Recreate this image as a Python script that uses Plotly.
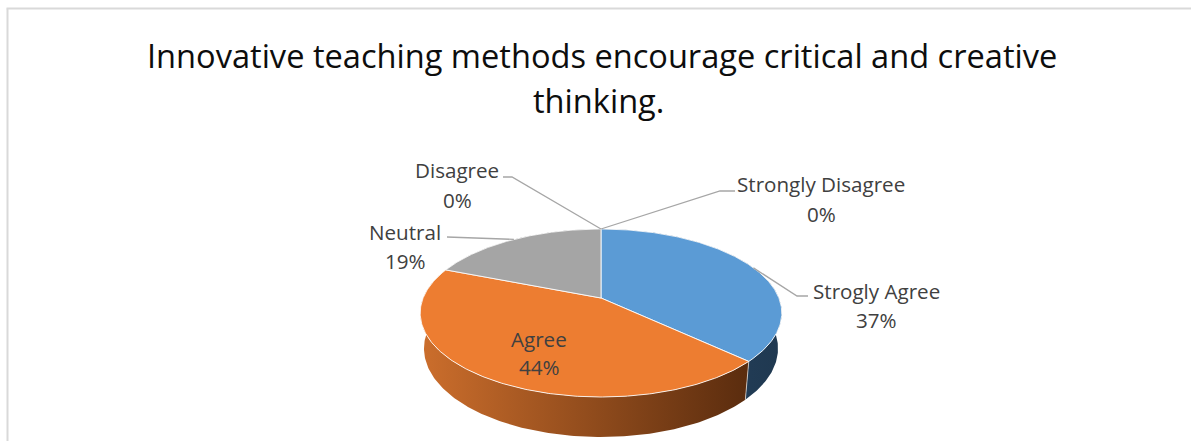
import math
import numpy as np
import plotly.graph_objects as go

# ---------------- data ----------------
categories = ["Strogly Agree", "Agree", "Neutral", "Disagree", "Strongly Disagree"]
percent_values = [37, 44, 19, 0, 0]
percent_labels = ["37%", "44%", "19%", "0%", "0%"]
title_lines = ["Innovative teaching methods encourage critical and creative", "thinking."]

# ---------------- style ----------------
top_colors = {"Strogly Agree": "#5B9BD5", "Agree": "#ED7D31", "Neutral": "#A5A5A5",
              "Disagree": "#FFC000", "Strongly Disagree": "#4472C4"}
side_gradients = {"Strogly Agree": ["#2A4A68", "#1F3850"],
                  "Agree": ["#CC6E2C", "#5A2C0E"],
                  "Neutral": ["#7A7A7A", "#505050"],
                  "Disagree": ["#A07800", "#705400"],
                  "Strongly Disagree": ["#2A4A80", "#1E3560"]}
W, H_PX = 1191, 441
# 3D pie projection parameters (in pixels of the figure)
CX, CY = 601.0, 298.0
FOCAL = 886.0
DIST = 4.98
ALPHA = math.radians(27.2)
THICK = 0.226
LABEL_COLOR = "#404040"
LEADER_COLOR = "#A6A6A6"
FONT = "Open Sans"
LABEL_SIZE = 20.6
TITLE_SIZE = 32.6

# label layout: text block centre and leader elbow/end (positions)
label_layout = {
    "Strogly Agree": dict(cx=876, y1=291, y2=320, elbow=(797, 296), end=(808, 296), inside=False),
    "Agree": dict(cx=539, y1=339, y2=367, inside=True),
    "Neutral": dict(cx=405, y1=232, y2=261, elbow=(447, 237), end=(447, 237), inside=False),
    "Disagree": dict(cx=457, y1=170, y2=200, elbow=(512, 177), end=(503, 177), inside=False),
    "Strongly Disagree": dict(cx=821, y1=184, y2=214, elbow=(720, 191), end=(735, 191), inside=False),
}


def project(X, Y, Z):
    ca, sa = math.cos(ALPHA), math.sin(ALPHA)
    v = Y * ca + Z * sa
    w = -Y * sa + Z * ca
    s = FOCAL / (DIST + w)
    return CX + X * s, CY - v * s


def rim(theta, r=1.0, y=0.0):
    return project(r * math.sin(theta), y, r * math.cos(theta))


total = float(sum(percent_values))
fractions = [v / total for v in percent_values]
starts = np.concatenate([[0.0], np.cumsum(fractions)[:-1]])
ends = np.cumsum(fractions)

fig = go.Figure()

# ----- side walls (drawn far-to-near, before tops) -----
wall_order = sorted(range(len(categories)),
                    key=lambda i: -math.cos(2 * math.pi * (starts[i] + ends[i]) / 2))
for i in wall_order:
    if fractions[i] <= 0:
        continue
    th = np.linspace(2 * math.pi * starts[i], 2 * math.pi * ends[i], 200)
    top = [rim(t) for t in th]
    bot = [rim(t, y=-THICK) for t in th[::-1]]
    pts = top + bot + [top[0]]
    g = side_gradients[categories[i]]
    fig.add_trace(go.Scatter(
        x=[p[0] for p in pts], y=[p[1] for p in pts], mode="lines", fill="toself",
        line=dict(width=0), fillcolor=g[0],
        fillgradient=dict(type="horizontal", colorscale=[[0, g[0]], [1, g[1]]]),
        hoverinfo="skip", showlegend=False))

# separators on visible wall between slices
for i in range(len(categories)):
    if fractions[i] <= 0:
        continue
    t = 2 * math.pi * ends[i]
    if math.cos(t) < 0:
        a = rim(t)
        b = rim(t, y=-THICK)
        fig.add_trace(go.Scatter(x=[a[0], b[0]], y=[a[1], b[1]], mode="lines",
                                 line=dict(color="rgba(255,255,255,0.6)", width=1),
                                 hoverinfo="skip", showlegend=False))

# ----- top faces -----
for i in range(len(categories)):
    if fractions[i] <= 0:
        continue
    th = np.linspace(2 * math.pi * starts[i], 2 * math.pi * ends[i], 240)
    pts = [project(0, 0, 0)] + [rim(t) for t in th] + [project(0, 0, 0)]
    fig.add_trace(go.Scatter(
        x=[p[0] for p in pts], y=[p[1] for p in pts], mode="lines", fill="toself",
        fillcolor=top_colors[categories[i]],
        line=dict(color="rgba(255,255,255,0.85)", width=1),
        name=categories[i], hoverinfo="name", showlegend=False))

# ----- labels and leader lines -----
annotations = []
for i, cat in enumerate(categories):
    L = label_layout[cat]
    annotations.append(dict(x=L["cx"], y=L["y1"], xref="x", yref="y", text=cat, showarrow=False,
                            font=dict(family=FONT, size=LABEL_SIZE, color=LABEL_COLOR),
                            xanchor="center", yanchor="middle"))
    annotations.append(dict(x=L["cx"], y=L["y2"], xref="x", yref="y", text=percent_labels[i],
                            showarrow=False, font=dict(family=FONT, size=LABEL_SIZE, color=LABEL_COLOR),
                            xanchor="center", yanchor="middle"))
    if L["inside"]:
        continue
    mid = 2 * math.pi * (starts[i] + ends[i]) / 2
    anchor = rim(mid)
    fig.add_trace(go.Scatter(
        x=[anchor[0], L["elbow"][0], L["end"][0]],
        y=[anchor[1], L["elbow"][1], L["end"][1]],
        mode="lines", line=dict(color=LEADER_COLOR, width=1.3),
        hoverinfo="skip", showlegend=False))

# title
annotations.append(dict(x=602, y=55, xref="x", yref="y", text=title_lines[0], showarrow=False,
                        font=dict(family=FONT, size=TITLE_SIZE, color="#0D0D0D"),
                        xanchor="center", yanchor="middle"))
annotations.append(dict(x=598, y=100, xref="x", yref="y", text=title_lines[1], showarrow=False,
                        font=dict(family=FONT, size=TITLE_SIZE, color="#0D0D0D"),
                        xanchor="center", yanchor="middle"))

frame = dict(color="#D9D9D9", width=2)
fig.update_layout(
    width=W, height=H_PX,
    margin=dict(l=0, r=0, t=0, b=0),
    paper_bgcolor="white", plot_bgcolor="white",
    xaxis=dict(range=[0, W], visible=False, fixedrange=True),
    yaxis=dict(range=[H_PX, 0], visible=False, fixedrange=True),
    annotations=annotations,
    shapes=[
        dict(type="line", xref="x", yref="y", x0=6.5, y0=8.5, x1=W, y1=8.5, line=frame, layer="below"),
        dict(type="line", xref="x", yref="y", x0=7.5, y0=8.5, x1=7.5, y1=H_PX, line=frame, layer="below"),
    ],
)

fig.write_html("out.html", config={"displayModeBar": False},
               post_script=("document.documentElement.style.margin='0';"
                            "document.documentElement.style.overflow='hidden';"
                            "document.body.style.margin='0';document.body.style.overflow='hidden';"))
